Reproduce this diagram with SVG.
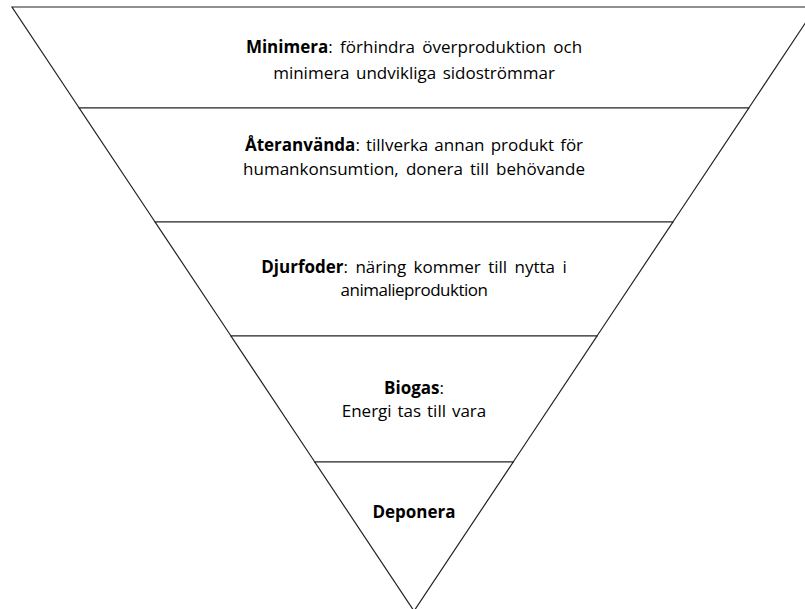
<svg xmlns="http://www.w3.org/2000/svg" width="805" height="609" viewBox="0 0 805 609">
<style>
.tier{fill:#ffffff;stroke:#222;stroke-width:1.2}
.t{font-family:"Open Sans","Liberation Sans",sans-serif;font-size:17px;fill:#000;text-anchor:middle}
.b{font-weight:bold}
</style>
<rect width="805" height="609" fill="#fff"/>
<g id="tier-minimera">
<polygon class="tier" points="12,7 816,7 748.8,108 79.2,108"/>
<text class="t" x="414" y="53" word-spacing="3"><tspan class="b">Minimera</tspan>: förhindra överproduktion och</text>
<text class="t" x="414" y="79" word-spacing="2">minimera undvikliga sidoströmmar</text>
</g>
<g id="tier-ateranvanda">
<polygon class="tier" points="79.2,108 748.8,108 672.9,222 155.1,222"/>
<text class="t" x="414" y="151" word-spacing="1.7"><tspan class="b">Återanvända</tspan>: tillverka annan produkt för</text>
<text class="t" x="414" y="175" word-spacing="2.7">humankonsumtion, donera till behövande</text>
</g>
<g id="tier-djurfoder">
<polygon class="tier" points="155.1,222 672.9,222 597,336 231,336"/>
<text class="t" x="414" y="273" word-spacing="3"><tspan class="b">Djurfoder</tspan>: näring kommer till nytta i</text>
<text class="t" x="414" y="296" letter-spacing="-0.5">animalieproduktion</text>
</g>
<g id="tier-biogas">
<polygon class="tier" points="231,336 597,336 513.2,462 314.8,462"/>
<text class="t" x="414" y="394"><tspan class="b">Biogas</tspan>:</text>
<text class="t" x="414" y="417" word-spacing="1.5">Energi tas till vara</text>
</g>
<g id="tier-deponera">
<polygon class="tier" points="314.8,462 513.2,462 414,611"/>
<text class="t b" x="414" y="518">Deponera</text>
</g>
<g id="connectors"></g>
</svg>
